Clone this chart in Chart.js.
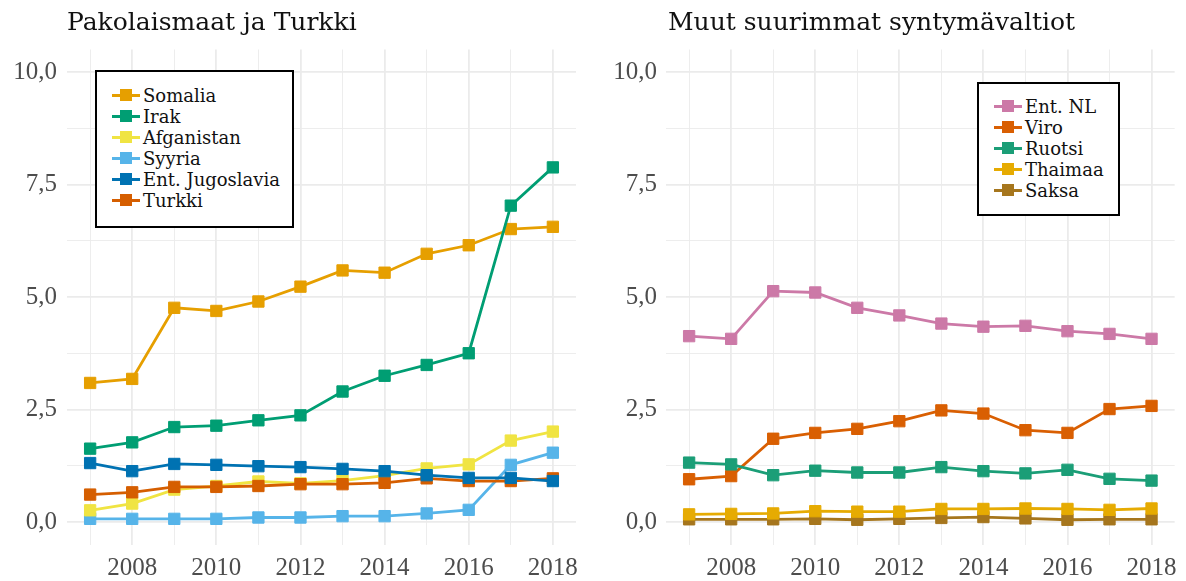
<!DOCTYPE html>
<html>
<head>
<meta charset="utf-8">
<title>Syntymävaltiot</title>
<script src="https://cdn.jsdelivr.net/npm/chart.js"></script>
<style>
  body { margin: 0; background: #fff; }
  #wrap { position: relative; width: 1186px; height: 581px; overflow: hidden; }
  .panel { position: absolute; top: 0; width: 593px; height: 581px; }
  .title { position: absolute; top: 7px; font-family: "DejaVu Serif", serif; font-size: 25px; color: #111; white-space: nowrap; }
  .legend { position: absolute; box-sizing: border-box; border: 2px solid #000; background: #fff;
            font-family: "DejaVu Serif", serif; font-size: 18px; color: #111; }
  .row { display: flex; align-items: center; height: 21px; white-space: nowrap; }
  .key { position: relative; width: 28px; height: 21px; margin-right: 3px; flex: none; }
  .key .ln { position: absolute; left: 0; right: 0; top: 9px; height: 3px; }
  .key .sq { position: absolute; left: 8px; top: 4px; width: 12px; height: 12px; }
</style>
</head>
<body>
<div id="wrap">
  <div class="panel" style="left:0"><canvas id="left"></canvas></div>
  <div class="panel" style="left:593px"><canvas id="right"></canvas></div>
  <div class="title" style="left:67px">Pakolaismaat ja Turkki</div>
  <div class="title" style="left:668px">Muut suurimmat syntymävaltiot</div>
  <div class="legend" id="legLeft" style="left:95px;top:70px;width:199px;height:158px;padding:13px 0 0 15px"></div>
  <div class="legend" id="legRight" style="left:977px;top:82px;width:143px;height:134px;padding:12px 0 0 15px"></div>
</div>
<script>
// years on the x axis
const years = [2007, 2008, 2009, 2010, 2011, 2012, 2013, 2014, 2015, 2016, 2017, 2018];

// left panel: refugee countries and Turkey (%)
const leftNames = ['Somalia', 'Irak', 'Afganistan', 'Syyria', 'Ent. Jugoslavia', 'Turkki'];
const somalia    = [3.09, 3.18, 4.76, 4.69, 4.90, 5.23, 5.59, 5.54, 5.96, 6.15, 6.51, 6.56];
const irak       = [1.63, 1.77, 2.11, 2.14, 2.26, 2.37, 2.90, 3.25, 3.49, 3.75, 7.03, 7.88];
const afganistan = [0.26, 0.41, 0.72, 0.80, 0.90, 0.86, 0.92, 1.03, 1.19, 1.28, 1.81, 2.01];
const syyria     = [0.07, 0.07, 0.07, 0.07, 0.10, 0.10, 0.13, 0.13, 0.19, 0.27, 1.27, 1.54];
const jugoslavia = [1.31, 1.13, 1.29, 1.27, 1.24, 1.22, 1.18, 1.13, 1.04, 0.98, 0.98, 0.91];
const turkki     = [0.61, 0.66, 0.78, 0.78, 0.80, 0.84, 0.84, 0.87, 0.97, 0.91, 0.91, 0.97];
const leftColors = ['#E69F00', '#009E73', '#F0E442', '#56B4E9', '#0072B2', '#D55E00'];

// right panel: other large countries of birth (%)
const rightNames = ['Ent. NL', 'Viro', 'Ruotsi', 'Thaimaa', 'Saksa'];
const entNL   = [4.13, 4.07, 5.13, 5.10, 4.76, 4.59, 4.41, 4.34, 4.36, 4.24, 4.18, 4.07];
const viro    = [0.95, 1.02, 1.85, 1.98, 2.07, 2.24, 2.48, 2.41, 2.04, 1.98, 2.51, 2.58];
const ruotsi  = [1.32, 1.28, 1.04, 1.14, 1.10, 1.10, 1.22, 1.13, 1.08, 1.16, 0.96, 0.92];
const thaimaa = [0.17, 0.18, 0.19, 0.24, 0.23, 0.23, 0.29, 0.29, 0.30, 0.29, 0.27, 0.30];
const saksa   = [0.06, 0.06, 0.06, 0.07, 0.05, 0.07, 0.09, 0.11, 0.08, 0.05, 0.06, 0.06];
const rightColors = ['#CC79A7', '#D95F02', '#1B9E77', '#E6AB02', '#A6761D'];

// axis breaks
const xMajor = [2008, 2010, 2012, 2014, 2016, 2018];
const xGrid = [2007, 2008, 2009, 2010, 2011, 2012, 2013, 2014, 2015, 2016, 2017, 2018];
const yMajor = [0, 2.5, 5, 7.5, 10];
const yTickLabels = ['0,0', '2,5', '5,0', '7,5', '10,0'];
const yGrid = [0, 1.25, 2.5, 3.75, 5, 6.25, 7.5, 8.75, 10];

const tickFont = { family: 'Liberation Serif', size: 25 };

function makeSets(names, series, colors, order) {
  return names.map((n, i) => ({
    label: n,
    data: years.map((yr, j) => ({ x: yr, y: series[i][j] })),
    borderColor: colors[i],
    backgroundColor: colors[i],
    borderWidth: 2.8,
    pointStyle: 'rect',
    pointRadius: 8,
    pointBorderWidth: 1,
    pointBorderColor: colors[i],
    order: order[i]
  }));
}

function makeChart(id, datasets, pad) {
  return new Chart(document.getElementById(id), {
    type: 'line',
    data: { datasets },
    options: {
      responsive: false,
      animation: false,
      layout: { padding: { left: 0, right: pad.right, top: 49.5, bottom: 0 } },
      plugins: { legend: { display: false }, tooltip: { enabled: false } },
      scales: {
        x: {
          type: 'linear', min: 2006.45, max: 2018.55,
          afterBuildTicks: s => { s.ticks = xGrid.map(v => ({ value: v })); },
          afterFit: s => { s.height = 36.5; },
          border: { display: false },
          grid: {
            color: '#EBEBEB', drawTicks: false,
            lineWidth: c => xMajor.includes(c.tick.value) ? 1.8 : 0.9
          },
          ticks: {
            padding: 9, color: '#4D4D4D', font: tickFont, maxRotation: 0, autoSkip: false,
            callback: v => xMajor.includes(v) ? String(v) : ''
          }
        },
        y: {
          min: -0.5, max: 10.5,
          afterBuildTicks: s => { s.ticks = yGrid.map(v => ({ value: v })); },
          afterFit: s => { s.width = pad.left; },
          border: { display: false },
          grid: {
            color: '#EBEBEB', drawTicks: false,
            lineWidth: c => yMajor.includes(c.tick.value) ? 1.8 : 0.9
          },
          ticks: {
            padding: pad.tick, color: '#4D4D4D', font: tickFont,
            callback: v => { const k = yMajor.indexOf(v); return k >= 0 ? yTickLabels[k] : ''; }
          }
        }
      }
    }
  });
}

function setSize(id, w, h) {
  const c = document.getElementById(id);
  c.width = w; c.height = h; c.style.width = w + 'px'; c.style.height = h + 'px';
}
setSize('left', 593, 581);
setSize('right', 593, 581);

makeChart('left',
  makeSets(leftNames, [somalia, irak, afganistan, syyria, jugoslavia, turkki], leftColors, [6, 5, 3, 4, 1, 2]),
  { left: 67, right: 17, tick: 10 });
makeChart('right',
  makeSets(rightNames, [entNL, viro, ruotsi, thaimaa, saksa], rightColors, [5, 4, 3, 1, 2]),
  { left: 73, right: 10, tick: 9 });

// html legends
function buildLegend(id, names, colors) {
  const box = document.getElementById(id);
  names.forEach((n, i) => {
    const row = document.createElement('div');
    row.className = 'row';
    row.innerHTML = '<div class="key"><div class="ln" style="background:' + colors[i] + '"></div>' +
      '<div class="sq" style="background:' + colors[i] + '"></div></div><span>' + n + '</span>';
    box.appendChild(row);
  });
}
buildLegend('legLeft', leftNames, leftColors);
buildLegend('legRight', rightNames, rightColors);
</script>
</body>
</html>
